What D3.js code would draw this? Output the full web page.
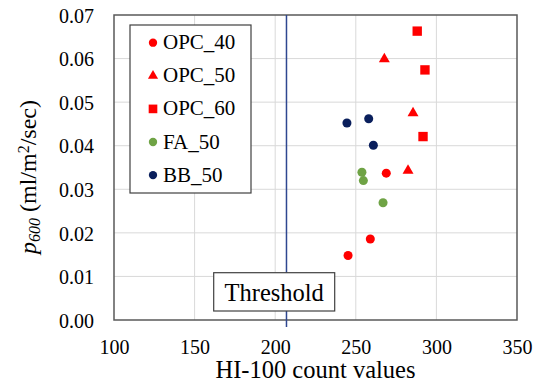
<!DOCTYPE html>
<html>
<head>
<meta charset="utf-8">
<script src="https://cdn.jsdelivr.net/npm/d3@7"></script>
<style>
  html, body { margin: 0; padding: 0; background: #fff; }
</style>
</head>
<body>
<svg id="chart" width="535" height="387"></svg>
<script>
// HI-100 count values (x) and p600 permeability (y) per mix
const opc40X = [268.9, 259.0, 245.2];
const opc40Y = [0.0337, 0.0186, 0.0148];
const opc50X = [267.7, 285.5, 282.4];
const opc50Y = [0.0599, 0.0475, 0.0343];
const opc60X = [288.1, 292.9, 291.7];
const opc60Y = [0.0663, 0.0574, 0.0421];
const fa50X = [253.8, 254.7, 266.9];
const fa50Y = [0.0339, 0.0320, 0.0269];
const bb50X = [244.5, 258.0, 260.9];
const bb50Y = [0.0452, 0.0462, 0.0401];

const seriesNames = ["OPC_40", "OPC_50", "OPC_60", "FA_50", "BB_50"];
const xTicks = [100, 150, 200, 250, 300, 350];
const yTicks = [0, 0.01, 0.02, 0.03, 0.04, 0.05, 0.06, 0.07];
const thresholdValue = 207;
const thresholdLabel = "Threshold";

const FONT = "'Liberation Serif', 'Times New Roman', serif";

const series = [
  { name: seriesNames[0], xs: opc40X, ys: opc40Y, shape: d3.symbolCircle, size: 64, color: "#FF0000" },
  { name: seriesNames[1], xs: opc50X, ys: opc50Y, shape: d3.symbolTriangle, size: 52, color: "#FF0000" },
  { name: seriesNames[2], xs: opc60X, ys: opc60Y, shape: d3.symbolSquare, size: 88, color: "#FF0000" },
  { name: seriesNames[3], xs: fa50X, ys: fa50Y, shape: d3.symbolCircle, size: 64, color: "#6FA345" },
  { name: seriesNames[4], xs: bb50X, ys: bb50Y, shape: d3.symbolCircle, size: 64, color: "#0A1F5C" }
];

const svg = d3.select("#chart")
  .attr("font-family", FONT).style("font-family", FONT);
const plot = { left: 114, right: 517, top: 15, bottom: 320 };

const x = d3.scaleLinear().domain([100, 350]).range([plot.left, plot.right]);
const y = d3.scaleLinear().domain([0, 0.07]).range([plot.bottom, plot.top]);

// gridlines
const grid = svg.append("g");
grid.selectAll("line.gx").data(xTicks.slice(1, -1)).join("line")
  .attr("x1", d => x(d)).attr("x2", d => x(d))
  .attr("y1", plot.top).attr("y2", plot.bottom)
  .attr("stroke", "#D9D9D9").attr("stroke-width", 1);
grid.selectAll("line.gy").data(yTicks.slice(1, -1)).join("line")
  .attr("x1", plot.left).attr("x2", plot.right)
  .attr("y1", d => y(d)).attr("y2", d => y(d))
  .attr("stroke", "#D9D9D9").attr("stroke-width", 1);

// axes (labels only; frame drawn separately)
const xAxis = d3.axisBottom(x).tickValues(xTicks).tickSize(0).tickPadding(0)
  .tickFormat(d3.format("d"));
const gx = svg.append("g").attr("transform", `translate(0,${plot.bottom})`).call(xAxis)
  .attr("font-family", FONT).attr("font-size", 20);
gx.select(".domain").remove();
gx.selectAll("text").attr("dy", null).attr("y", 34)
  .style("font-family", FONT).attr("fill", "#000");

const yAxis = d3.axisLeft(y).tickValues(yTicks).tickSize(0).tickPadding(0)
  .tickFormat(d3.format(".2f"));
const gy = svg.append("g").attr("transform", `translate(${plot.left},0)`).call(yAxis)
  .attr("font-family", FONT).attr("font-size", 20);
gy.select(".domain").remove();
gy.selectAll("text").attr("x", -20).attr("dy", "0.36em")
  .style("font-family", FONT).attr("fill", "#000");

// plot frame
svg.append("rect")
  .attr("x", plot.left).attr("y", plot.top)
  .attr("width", plot.right - plot.left).attr("height", plot.bottom - plot.top)
  .attr("fill", "none").attr("stroke", "#595959").attr("stroke-width", 1.5);

// threshold line
svg.append("line")
  .attr("x1", x(thresholdValue)).attr("x2", x(thresholdValue))
  .attr("y1", plot.top).attr("y2", plot.bottom + 7)
  .attr("stroke", "#2E4790").attr("stroke-width", 1.5);

// points
const sym = d3.symbol();
series.forEach(s => {
  svg.append("g").selectAll("path")
    .data(s.xs.map((v, i) => [v, s.ys[i]]))
    .join("path")
    .attr("d", sym.type(s.shape).size(s.size)())
    .attr("transform", d => `translate(${x(d[0])},${y(d[1])})`)
    .attr("fill", s.color);
});

// legend
const legend = svg.append("g");
legend.append("rect")
  .attr("x", 130).attr("y", 25).attr("width", 121).attr("height", 168)
  .attr("fill", "#fff").attr("stroke", "#404040").attr("stroke-width", 1.2);
series.forEach((s, i) => {
  const cy = 42.7 + i * 33.1;
  legend.append("path")
    .attr("d", d3.symbol().type(s.shape).size(s.size * 0.85)())
    .attr("transform", `translate(153,${cy})`)
    .attr("fill", s.color);
  legend.append("text")
    .attr("x", 163).attr("y", cy + 6.5)
    .attr("font-size", 21)
    .style("font-family", FONT)
    .text(s.name);
});

// threshold label box
svg.append("rect")
  .attr("x", 213.7).attr("y", 272.7).attr("width", 121).attr("height", 38.3)
  .attr("fill", "#fff").attr("stroke", "#404040").attr("stroke-width", 1.2);
svg.append("text")
  .attr("x", 274.2).attr("y", 301)
  .attr("text-anchor", "middle").attr("font-size", 24.5)
  .style("font-family", FONT)
  .text(thresholdLabel);

// axis titles
svg.append("text")
  .attr("x", (plot.left + plot.right) / 2).attr("y", 378)
  .attr("text-anchor", "middle").attr("font-size", 24.5)
  .style("font-family", FONT)
  .text("HI-100 count values");

const yt = svg.append("text")
  .attr("transform", "translate(36,177) rotate(-90)")
  .attr("text-anchor", "middle").attr("font-size", 24)
  .style("font-family", FONT);
yt.append("tspan").attr("font-style", "italic").text("p");
yt.append("tspan").attr("font-style", "italic").attr("font-size", 16)
  .attr("baseline-shift", "-25%").text("600");
yt.append("tspan").text(" (ml/m");
yt.append("tspan").attr("font-size", 16).attr("baseline-shift", "45%").text("2");
yt.append("tspan").text("/sec)");
</script>
</body>
</html>
